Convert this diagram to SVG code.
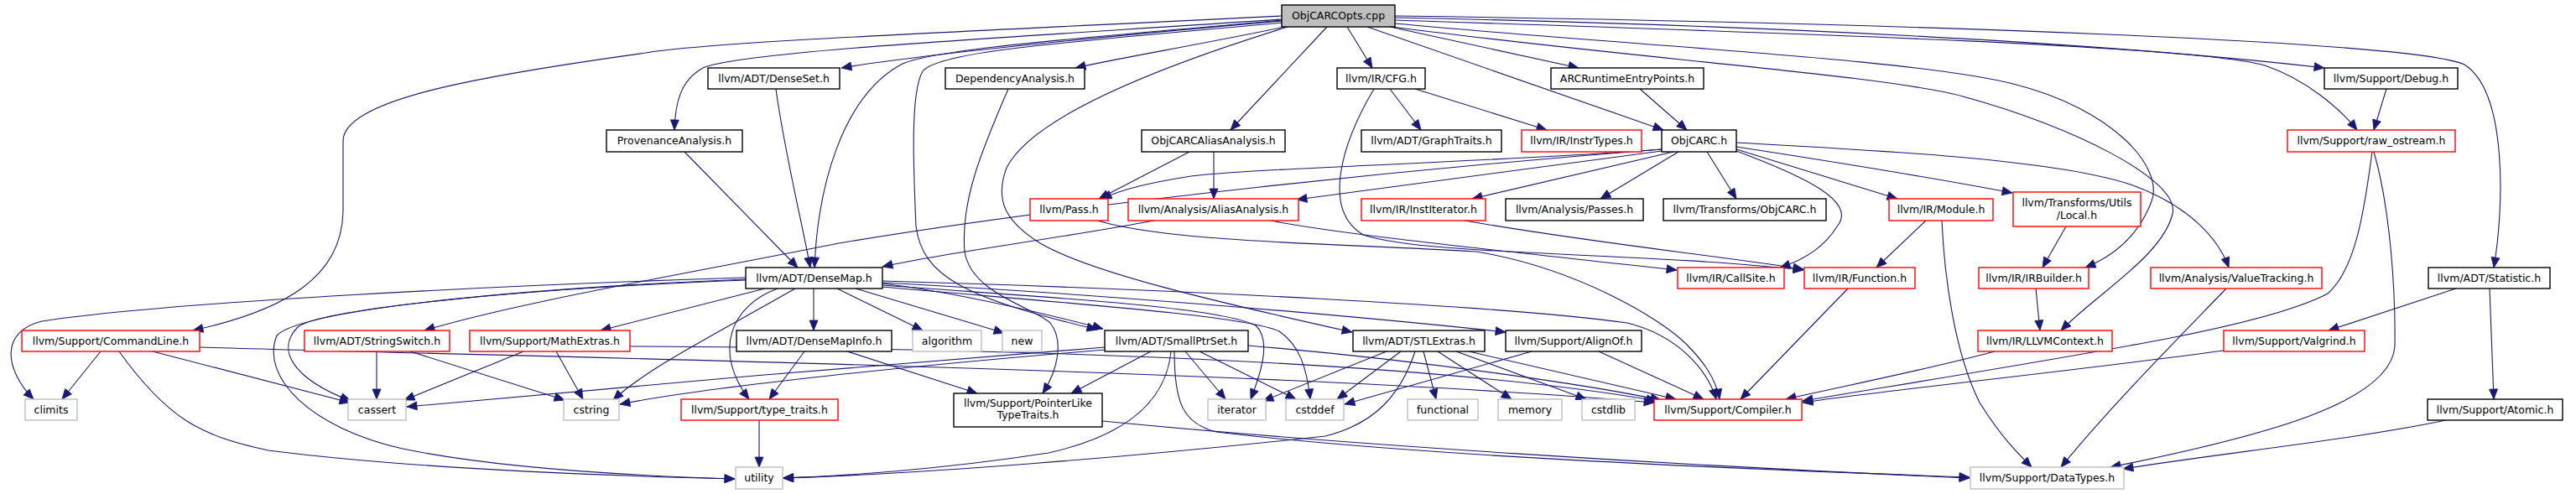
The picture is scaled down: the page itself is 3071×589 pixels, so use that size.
<svg xmlns="http://www.w3.org/2000/svg" width="3071" height="589" viewBox="0 0 3071 589">
<style>
.node rect{fill:#ffffff;stroke:#000000;stroke-width:1.4}
.node.red rect{stroke:#ff0000}
.node.sys rect{stroke:#bfbfbf}
.node.root rect{fill:#bfbfbf}
.node text{font-family:"DejaVu Sans","Liberation Sans",sans-serif;font-size:12.5px;fill:#000000;text-anchor:middle}
#edges path{fill:none;stroke:#191970;stroke-width:1.1;marker-end:url(#arr)}
</style>
<defs>
<marker id="arr" markerUnits="userSpaceOnUse" markerWidth="13" markerHeight="10" refX="12" refY="5" orient="auto" overflow="visible">
<path d="M0,0 L12,5 L0,10 z" fill="#191970" stroke="#191970" stroke-width="0.8"/>
</marker>
</defs>
<rect x="0" y="0" width="3071" height="589" fill="#ffffff"/>
<g id="edges">
<!-- ObjCARCOpts.cpp -->
<path d="M1528,19 C1100,40 850,50 770,63 C560,92 409,120 409,168 L409,250 C409,330 340,370 230,394"/>
<path d="M1528,23 C1200,45 900,60 840,80 C810,95 805,125 804,155"/>
<path d="M1528,25 C1300,45 1100,65 1003,81"/>
<path d="M1532,32 C1420,55 1330,70 1282,81"/>
<path d="M1528,24 C1300,45 1110,58 1074,77 C1005,115 975,220 971,319"/>
<path d="M1528,27 C1280,50 1120,60 1100,85 C1085,110 1089,200 1092,270 C1100,330 1150,355 1308,393"/>
<path d="M1582,32 L1467,155"/>
<path d="M1535,32 C1380,80 1230,140 1200,200 C1185,240 1200,265 1240,290 C1300,325 1450,360 1612,396"/>
<path d="M1630,32 L1983,155"/>
<path d="M1606,32 L1636,81"/>
<path d="M1657,32 L1882,81"/>
<path d="M1663,21 C2100,30 2500,50 2771,81"/>
<path d="M1663,24 C2150,40 2620,55 2700,78 C2750,95 2790,130 2810,155"/>
<path d="M1663,19 C2300,28 2880,50 2938,77 C2990,110 2985,250 2973,319"/>
<path d="M1663,28 C1950,55 2280,70 2400,100 C2520,130 2580,200 2565,240 C2550,280 2520,305 2486,319"/>
<path d="M1660,32 C1950,70 2250,90 2340,115 C2470,150 2600,215 2590,255 C2578,305 2500,350 2457,394"/>
<!-- second row -->
<path d="M925,106 C935,180 955,260 966,319"/>
<path d="M816,181 L951,319"/>
<path d="M1202,106 C1170,180 1145,240 1150,300 C1158,350 1230,365 1252,385 C1268,405 1262,440 1243,469"/>
<path d="M1418,181 L1310,237"/>
<path d="M1447,181 L1447,237"/>
<path d="M1955,106 L2011,155"/>
<path d="M1657,106 L1694,155"/>
<path d="M1687,106 L1844,155"/>
<path d="M1638,106 C1600,170 1575,250 1625,280 C1700,305 1950,300 2150,322"/>
<path d="M2845,106 L2830,155"/>
<!-- ObjCARC.h -->
<path d="M1981,178 C1700,200 1300,240 1000,290 C800,330 620,360 506,394"/>
<path d="M1981,178 C1750,195 1500,200 1420,210 C1370,218 1340,225 1313,237"/>
<path d="M1981,180 L1546,238"/>
<path d="M1995,181 L1755,237"/>
<path d="M2001,181 L1908,237"/>
<path d="M2035,181 L2070,237"/>
<path d="M2070,178 L2262,237"/>
<path d="M2070,180 C2150,210 2215,240 2190,270 C2175,295 2150,310 2122,319"/>
<path d="M2070,170 C2250,180 2450,190 2540,220 C2610,245 2645,285 2657,319"/>
<path d="M2070,175 C2200,195 2320,215 2399,230"/>
<!-- row 4 -->
<path d="M1376,263 C1260,285 1120,302 1052,318"/>
<path d="M1515,263 C1600,280 1800,300 1999,322"/>
<path d="M1308,263 C1400,290 1600,290 1760,300 C1880,320 1980,380 2010,410 C2030,430 2045,450 2050,476"/>
<path d="M1746,263 C1900,290 2050,305 2150,321"/>
<path d="M2296,263 L2237,319"/>
<path d="M2315,263 C2318,330 2330,420 2360,480 C2385,520 2405,540 2422,557"/>
<path d="M2463,270 L2435,319"/>
<!-- row 5 -->
<path d="M2427,344 L2432,394"/>
<path d="M2654,344 C2600,400 2520,480 2457,557"/>
<path d="M2203,344 L2075,476"/>
<path d="M2928,344 L2776,394"/>
<path d="M2968,344 L2973,476"/>
<path d="M2828,181 C2820,240 2810,320 2775,350 C2700,390 2500,420 2149,478"/>
<path d="M2830,181 C2850,250 2856,350 2855,413 C2850,480 2700,520 2516,557"/>
<!-- row 6 right -->
<path d="M2378,419 C2300,440 2200,460 2129,476"/>
<path d="M2651,418 C2450,445 2250,465 2149,480"/>
<path d="M2916,501 C2800,525 2650,540 2531,559"/>
<!-- DenseMap.h -->
<path d="M970,344 L970,394"/>
<path d="M998,344 L1100,394"/>
<path d="M1020,344 L1197,397"/>
<path d="M927,344 C870,365 850,420 893,476"/>
<path d="M889,333 C600,345 360,370 330,400 C310,450 370,510 480,535 C600,560 780,568 876,571"/>
<path d="M889,334 C600,345 380,370 355,390 C330,415 345,450 418,478"/>
<path d="M889,331 C600,340 200,360 50,383 C0,395 5,440 40,476"/>
<path d="M912,344 L716,394"/>
<path d="M948,344 C850,400 770,440 731,477"/>
<path d="M1052,338 C1150,350 1250,375 1315,392"/>
<path d="M1052,340 C1250,355 1450,365 1497,388 C1515,405 1505,440 1491,476"/>
<path d="M1052,342 C1250,360 1480,375 1525,395 C1550,412 1558,440 1562,476"/>
<path d="M1052,337 C1300,350 1600,375 1795,396"/>
<path d="M1052,335 C1400,345 1800,365 1940,385 C2000,400 2035,440 2046,476"/>
<!-- SmallPtrSet.h -->
<path d="M1372,419 L1277,469"/>
<path d="M1396,419 C1390,480 1340,520 1250,540 C1120,560 1000,568 933,570"/>
<path d="M1400,419 C1400,480 1410,505 1450,515 C1700,545 2100,560 2348,569"/>
<path d="M1413,419 L1461,476"/>
<path d="M1430,419 L1545,476"/>
<path d="M1317,414 C1100,430 700,465 485,485"/>
<path d="M1317,417 C1100,435 850,460 739,482"/>
<path d="M1488,412 C1700,430 1900,460 1980,477"/>
<!-- STLExtras.h -->
<path d="M1670,419 L1594,476"/>
<path d="M1653,419 L1506,478"/>
<path d="M1697,419 L1712,476"/>
<path d="M1714,419 L1802,476"/>
<path d="M1736,419 L1891,476"/>
<path d="M1751,419 L1998,476"/>
<path d="M1687,419 C1670,470 1640,505 1580,520 C1350,545 1100,565 934,570"/>
<!-- AlignOf.h -->
<path d="M1826,419 L1603,482"/>
<path d="M1906,419 L2031,476"/>
<!-- MathExtras.h -->
<path d="M624,419 L482,477"/>
<path d="M663,419 L695,476"/>
<path d="M751,413 C1200,415 1700,430 1975,478"/>
<!-- StringSwitch.h -->
<path d="M449,419 L449,476"/>
<path d="M489,419 L673,477"/>
<!-- CommandLine.h -->
<path d="M120,419 L74,476"/>
<path d="M182,419 L417,480"/>
<path d="M142,419 C200,500 240,520 320,537 C500,560 750,568 876,571"/>
<path d="M238,414 C600,425 1500,440 1972,480"/>
<!-- DenseMapInfo.h -->
<path d="M959,419 L917,476"/>
<path d="M1010,419 L1165,469"/>
<!-- type_traits / PointerLikeTypeTraits -->
<path d="M905,501 L905,557"/>
<path d="M1314,502 C1600,530 2000,555 2348,570"/>
</g>
<g id="n_opts" class="node root"><rect x="1528" y="6" width="135" height="26"/><text x="1595.5" y="23.3">ObjCARCOpts.cpp</text></g>
<g id="n_denseset" class="node"><rect x="844" y="81" width="157" height="25"/><text x="922.5" y="97.8">llvm/ADT/DenseSet.h</text></g>
<g id="n_depan" class="node"><rect x="1127" y="81" width="166" height="25"/><text x="1210" y="97.8">DependencyAnalysis.h</text></g>
<g id="n_cfg" class="node"><rect x="1594" y="81" width="105" height="25"/><text x="1646.5" y="97.8">llvm/IR/CFG.h</text></g>
<g id="n_arcrt" class="node"><rect x="1849" y="81" width="182" height="25"/><text x="1940" y="97.8">ARCRuntimeEntryPoints.h</text></g>
<g id="n_debug" class="node"><rect x="2771" y="81" width="159" height="25"/><text x="2850.5" y="97.8">llvm/Support/Debug.h</text></g>
<g id="n_prov" class="node"><rect x="723" y="155" width="162" height="26"/><text x="804" y="172.3">ProvenanceAnalysis.h</text></g>
<g id="n_objaa" class="node"><rect x="1361" y="155" width="171" height="26"/><text x="1446.5" y="172.3">ObjCARCAliasAnalysis.h</text></g>
<g id="n_graph" class="node"><rect x="1623" y="155" width="167" height="26"/><text x="1706.5" y="172.3">llvm/ADT/GraphTraits.h</text></g>
<g id="n_instr" class="node red"><rect x="1814" y="155" width="143" height="26"/><text x="1885.5" y="172.3">llvm/IR/InstrTypes.h</text></g>
<g id="n_objarc" class="node"><rect x="1981" y="155" width="89" height="26"/><text x="2025.5" y="172.3">ObjCARC.h</text></g>
<g id="n_rawos" class="node red"><rect x="2727" y="155" width="200" height="26"/><text x="2827" y="172.3">llvm/Support/raw_ostream.h</text></g>
<g id="n_pass" class="node red"><rect x="1228" y="237" width="93" height="26"/><text x="1274.5" y="254.3">llvm/Pass.h</text></g>
<g id="n_aa" class="node red"><rect x="1345" y="237" width="203" height="26"/><text x="1446.5" y="254.3">llvm/Analysis/AliasAnalysis.h</text></g>
<g id="n_institer" class="node red"><rect x="1623" y="237" width="148" height="26"/><text x="1697" y="254.3">llvm/IR/InstIterator.h</text></g>
<g id="n_passes" class="node"><rect x="1795" y="237" width="164" height="26"/><text x="1877" y="254.3">llvm/Analysis/Passes.h</text></g>
<g id="n_tobjarc" class="node"><rect x="1983" y="237" width="194" height="26"/><text x="2080" y="254.3">llvm/Transforms/ObjCARC.h</text></g>
<g id="n_module" class="node red"><rect x="2252" y="237" width="124" height="26"/><text x="2314" y="254.3">llvm/IR/Module.h</text></g>
<g id="n_local" class="node red"><rect x="2400" y="229" width="152" height="41"/><text x="2476" y="246">llvm/Transforms/Utils</text><text x="2476" y="261">/Local.h</text></g>
<g id="n_densemap" class="node"><rect x="889" y="319" width="163" height="25"/><text x="970.5" y="335.8">llvm/ADT/DenseMap.h</text></g>
<g id="n_callsite" class="node red"><rect x="2000" y="319" width="127" height="25"/><text x="2063.5" y="335.8">llvm/IR/CallSite.h</text></g>
<g id="n_function" class="node red"><rect x="2151" y="319" width="132" height="25"/><text x="2217" y="335.8">llvm/IR/Function.h</text></g>
<g id="n_irbuilder" class="node red"><rect x="2359" y="319" width="131" height="25"/><text x="2424.5" y="335.8">llvm/IR/IRBuilder.h</text></g>
<g id="n_valtrack" class="node red"><rect x="2564" y="319" width="204" height="25"/><text x="2666" y="335.8">llvm/Analysis/ValueTracking.h</text></g>
<g id="n_stat" class="node"><rect x="2895" y="319" width="145" height="25"/><text x="2967.5" y="335.8">llvm/ADT/Statistic.h</text></g>
<g id="n_cmdline" class="node red"><rect x="26" y="394" width="212" height="25"/><text x="132" y="410.8">llvm/Support/CommandLine.h</text></g>
<g id="n_strswitch" class="node red"><rect x="363" y="394" width="173" height="25"/><text x="449.5" y="410.8">llvm/ADT/StringSwitch.h</text></g>
<g id="n_math" class="node red"><rect x="560" y="394" width="191" height="25"/><text x="655.5" y="410.8">llvm/Support/MathExtras.h</text></g>
<g id="n_dmi" class="node"><rect x="878" y="394" width="185" height="25"/><text x="970.5" y="410.8">llvm/ADT/DenseMapInfo.h</text></g>
<g id="n_algorithm" class="node sys"><rect x="1088" y="394" width="82" height="25"/><text x="1129" y="410.8">algorithm</text></g>
<g id="n_new" class="node sys"><rect x="1195" y="394" width="47" height="25"/><text x="1218.5" y="410.8">new</text></g>
<g id="n_smallptr" class="node"><rect x="1317" y="394" width="171" height="25"/><text x="1402.5" y="410.8">llvm/ADT/SmallPtrSet.h</text></g>
<g id="n_stlextras" class="node"><rect x="1613" y="394" width="157" height="25"/><text x="1691.5" y="410.8">llvm/ADT/STLExtras.h</text></g>
<g id="n_alignof" class="node"><rect x="1795" y="394" width="162" height="25"/><text x="1876" y="410.8">llvm/Support/AlignOf.h</text></g>
<g id="n_llvmctx" class="node red"><rect x="2358" y="394" width="160" height="25"/><text x="2438" y="410.8">llvm/IR/LLVMContext.h</text></g>
<g id="n_valgrind" class="node red"><rect x="2651" y="394" width="168" height="25"/><text x="2735" y="410.8">llvm/Support/Valgrind.h</text></g>
<g id="n_climits" class="node sys"><rect x="30" y="476" width="62" height="25"/><text x="61" y="492.8">climits</text></g>
<g id="n_cassert" class="node sys"><rect x="415" y="476" width="69" height="25"/><text x="449.5" y="492.8">cassert</text></g>
<g id="n_cstring" class="node sys"><rect x="672" y="476" width="66" height="25"/><text x="705" y="492.8">cstring</text></g>
<g id="n_typetraits" class="node red"><rect x="812" y="476" width="187" height="25"/><text x="905.5" y="492.8">llvm/Support/type_traits.h</text></g>
<g id="n_pltt" class="node"><rect x="1137" y="469" width="177" height="40"/><text x="1225.5" y="485">llvm/Support/PointerLike</text><text x="1225.5" y="499">TypeTraits.h</text></g>
<g id="n_iterator" class="node sys"><rect x="1440" y="476" width="69" height="25"/><text x="1474.5" y="492.8">iterator</text></g>
<g id="n_cstddef" class="node sys"><rect x="1533" y="476" width="69" height="25"/><text x="1567.5" y="492.8">cstddef</text></g>
<g id="n_functional" class="node sys"><rect x="1678" y="476" width="84" height="25"/><text x="1720" y="492.8">functional</text></g>
<g id="n_memory" class="node sys"><rect x="1786" y="476" width="76" height="25"/><text x="1824" y="492.8">memory</text></g>
<g id="n_cstdlib" class="node sys"><rect x="1886" y="476" width="63" height="25"/><text x="1917.5" y="492.8">cstdlib</text></g>
<g id="n_compiler" class="node red"><rect x="1972" y="476" width="176" height="25"/><text x="2060" y="492.8">llvm/Support/Compiler.h</text></g>
<g id="n_atomic" class="node"><rect x="2894" y="476" width="161" height="25"/><text x="2974.5" y="492.8">llvm/Support/Atomic.h</text></g>
<g id="n_utility" class="node sys"><rect x="877" y="557" width="56" height="26"/><text x="905" y="574.3">utility</text></g>
<g id="n_datatypes" class="node sys"><rect x="2349" y="557" width="183" height="26"/><text x="2440.5" y="574.3">llvm/Support/DataTypes.h</text></g>
</svg>
